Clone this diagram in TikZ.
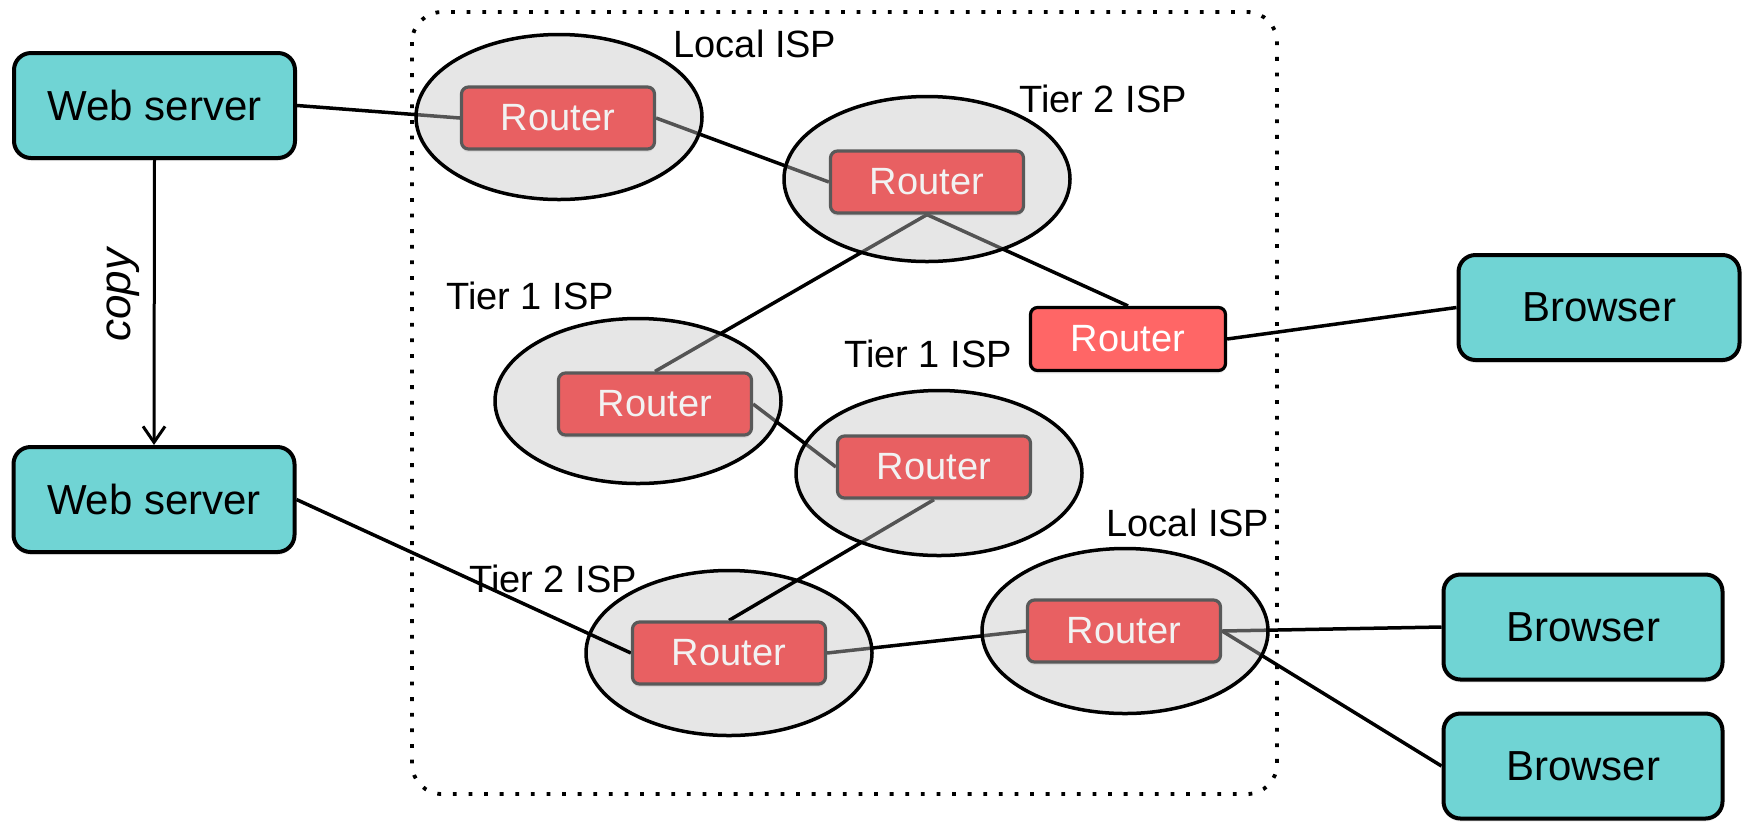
\documentclass[tikz,border=0pt]{standalone}
\usepackage{fontspec}
\setmainfont{Liberation Sans}
\usetikzlibrary{arrows.meta,shapes.geometric,shadows}
\pgfdeclarelayer{lineslow}
\pgfdeclarelayer{ellipselow}
\pgfdeclarelayer{linesmid}
\pgfdeclarelayer{ellipsehigh}
\pgfsetlayers{lineslow,ellipselow,linesmid,ellipsehigh,main}
\definecolor{wsfill}{HTML}{70D4D4}
\definecolor{rtfill}{HTML}{E86062}
\definecolor{rtsfill}{HTML}{FF6666}
\definecolor{rtborder}{HTML}{595959}
\definecolor{rttext}{HTML}{F2F2F2}
\definecolor{ellfill}{HTML}{C5C5C5}
\tikzset{
  shadowed/.style={drop shadow={shadow xshift=0pt, shadow yshift=-1.5pt, opacity=0.15}},
  srv/.style={draw=black, line width=2pt, fill=wsfill, rounded corners=8.5pt,
    minimum width=140.5pt, minimum height=52.5pt, inner sep=0pt,
    font=\fontsize{21}{25}\selectfont, shadowed},
  rtr/.style={draw=rtborder, line width=1.6pt, fill=rtfill, rounded corners=3.5pt,
    minimum width=96.5pt, minimum height=31pt, inner sep=0pt, text=rttext,
    font=\fontsize{19}{22}\selectfont, shadowed},
  rtrs/.style={rtr, draw=black, fill=rtsfill, text=white, minimum width=97.5pt, minimum height=31.5pt},
  isp/.style={ellipse, draw=black, line width=1.75pt, fill=ellfill, fill opacity=0.43,
    minimum width=143pt, minimum height=82.5pt, inner sep=0pt},
  lbl/.style={font=\fontsize{19}{22}\selectfont, inner sep=0pt},
  conn/.style={draw=black, line width=1.75pt},
}
\begin{document}
\begin{tikzpicture}[x=0.5pt,y=-0.5pt]
\path[use as bounding box] (0,0) rectangle (1744,821);

% ISP ellipses
\begin{pgfonlayer}{ellipselow}
\node[isp] (e5) at (729,653) {};
\end{pgfonlayer}
\begin{pgfonlayer}{ellipsehigh}
\node[isp] (e1) at (559,117) {};
\node[isp] (e2) at (927,179) {};
\node[isp] (e3) at (638,401) {};
\node[isp] (e4) at (939,473) {};
\node[isp] (e6) at (1125,631) {};
\end{pgfonlayer}

% routers
\node[rtr] (r1) at (558,118) {Router};
\node[rtr] (r2) at (927,182) {Router};
\node[rtr] (r3) at (655,404) {Router};
\node[rtr] (r4) at (934,467) {Router};
\node[rtr] (r5) at (729,653) {Router};
\node[rtr] (r6) at (1124,631) {Router};
\node[rtrs] (rs) at (1128,339) {Router};

% end hosts
\node[srv] (ws1) at (154.5,105.5) {Web server};
\node[srv] (ws2) at (154,499.5) {Web server};
\node[srv] (br1) at (1599,307.5) {Browser};
\node[srv, minimum width=139.5pt] (br2) at (1583,627) {Browser};
\node[srv, minimum width=139.5pt] (br3) at (1583,766) {Browser};

% labels
\node[lbl] (l1) at (755,44) {Local ISP};
\node[lbl] (l2) at (1103,99) {Tier 2 ISP};
\node[lbl] (l3) at (530,296) {Tier 1 ISP};
\node[lbl] (l4) at (928,354) {Tier 1 ISP};
\node[lbl] (l5) at (1188,523) {Local ISP};
\node[lbl] (l6) at (553,579) {Tier 2 ISP};

% connectors under the ISP ellipses
\begin{pgfonlayer}{lineslow}
\draw[line width=1.9pt, dash pattern=on 1.9pt off 5.9pt, rounded corners=15pt]
  (412,12) rectangle (1277,794);
\draw[conn] (ws1.east) -- (r1.west);
\draw[conn] (r1.east) -- (r2.west);
\draw[conn] (r2.south) -- (r3.north);
\draw[conn] (r2.south) -- (rs.north);
\draw[conn] (rs.east) -- (br1.west);
\draw[conn] (r3.east) -- (r4.west);
\draw[conn] (r5.east) -- (r6.west);
\draw[conn] (r6.east) -- (br2.west);
\draw[conn] (r6.east) -- (br3.west);
\end{pgfonlayer}
\begin{pgfonlayer}{linesmid}
\draw[conn] (ws2.east) -- (r5.west);
\draw[conn] (r4.south) -- (r5.north);
\end{pgfonlayer}

% copy arrow
\draw[conn, line width=1.5pt, -{Straight Barb[length=8pt,width=11pt,line width=1.5pt]}] (ws1.south) -- (ws2.north);
\node[font=\itshape\fontsize{22}{26}\selectfont, rotate=90, inner sep=0pt] (cp) at (123,295) {copy};
\end{tikzpicture}
\end{document}
